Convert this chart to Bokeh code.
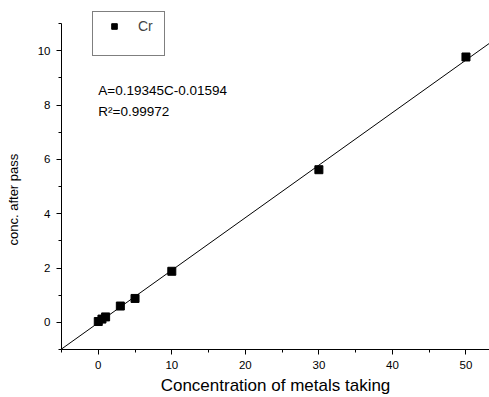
from bokeh.plotting import figure
from bokeh.models import Range1d, Legend, LegendItem, Label, FixedTicker, Title
from bokeh.embed import file_html
from bokeh.resources import INLINE

conc_taking = [0.0, 0.5, 1.0, 3.0, 5.0, 10.0, 30.0, 50.0]
conc_after = [0.03, 0.12, 0.20, 0.60, 0.88, 1.88, 5.62, 9.77]
slope = 0.19345
intercept = -0.01594
fit_x = [-5.0, 53.5]
fit_y = [slope * v + intercept for v in fit_x]

FONT = "Liberation Sans"

p = figure(width=489, height=397, output_backend="svg", toolbar_location=None,
           x_range=Range1d(-5, 53.2), y_range=Range1d(-1, 11.85),
           min_border_left=61, min_border_bottom=46, min_border_top=0, min_border_right=0)
p.outline_line_color = None
p.grid.visible = False

p.line(fit_x, fit_y, line_color="black", line_width=1)
r = p.scatter(conc_taking, conc_after, marker="square", size=8, color="black")
dummy = p.scatter([0], [0], marker="square", size=0, alpha=0)

for ax in (p.xaxis[0], p.yaxis[0]):
    ax.axis_line_color = "black"
    ax.major_tick_out = 5
    ax.major_tick_in = 0
    ax.minor_tick_out = 3
    ax.minor_tick_in = 0
    ax.major_label_text_font = FONT
    ax.major_label_text_font_size = "11.5px"
    ax.major_label_text_color = "black"
    ax.axis_label_text_font = FONT
    ax.axis_label_text_font_style = "normal"
    ax.axis_label_text_color = "black"
    ax.major_label_standoff = 6

p.xaxis.ticker = FixedTicker(ticks=[0, 10, 20, 30, 40, 50], minor_ticks=[-5, 5, 15, 25, 35, 45])
p.yaxis.ticker = FixedTicker(ticks=[0, 2, 4, 6, 8, 10], minor_ticks=[-1, 1, 3, 5, 7, 9, 11])
p.yaxis.bounds = (-1, 11)
p.xaxis.axis_label = "Concentration of metals taking"
p.xaxis.axis_label_text_font_size = "17px"
p.xaxis.axis_label_standoff = 4
# invisible spacer so the y title sits further left, as in the reference
p.yaxis.axis_label = " "
p.yaxis.axis_label_text_font_size = "1px"
p.yaxis.axis_label_standoff = 10

ytitle = Title(text="conc. after pass", align="left", offset=104, text_font=FONT,
               text_font_size="13px", text_font_style="normal", text_color="black",
               standoff=0)
p.add_layout(ytitle, "left")

legend = Legend(items=[LegendItem(label="Cr", renderers=[r]), LegendItem(label=" ", renderers=[dummy])],
                location=(31, 293), padding=6, spacing=1, glyph_width=30, glyph_height=14,
                label_height=14, label_standoff=9, label_text_font=FONT, label_text_font_size="14px",
                border_line_color="black", border_line_width=1, background_fill_alpha=0,
                margin=0)
p.add_layout(legend, "center")

p.add_layout(Label(x=0, y=8.55, text="A=0.19345C-0.01594", text_font=FONT, text_font_size="13.5px",
                   text_baseline="middle", text_color="black"))
p.add_layout(Label(x=0, y=7.75, text="R²=0.99972", text_font=FONT, text_font_size="13.5px",
                   text_baseline="middle", text_color="black"))

open("out.html", "w").write(file_html(p, INLINE))
